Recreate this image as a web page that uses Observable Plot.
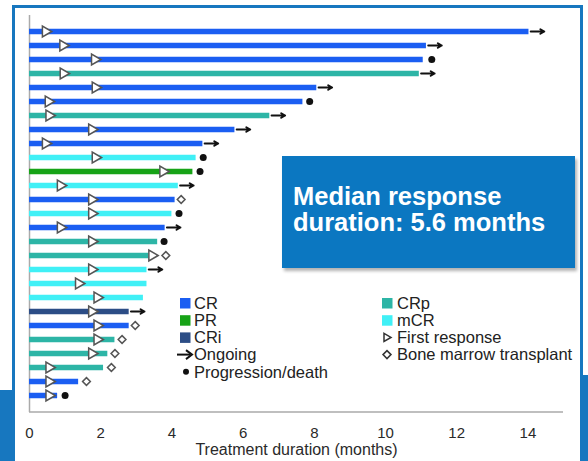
<!DOCTYPE html>
<html><head><meta charset="utf-8">
<script src="https://cdn.jsdelivr.net/npm/d3@7"></script>
<script src="https://cdn.jsdelivr.net/npm/@observablehq/plot@0.6"></script>
<style>
html,body{margin:0;padding:0;background:#fff;}
#wrap{position:relative;width:588px;height:461px;overflow:hidden;font-family:"Liberation Sans",Arial,sans-serif;}
#wrap > svg{position:absolute;left:0;top:0;}
#box{position:absolute;left:282px;top:156px;width:293px;height:112px;background:#0b77c1;box-shadow:2px 3px 3px rgba(0,0,0,0.3);color:#fff;font-weight:bold;font-size:25.5px;line-height:26px;box-sizing:border-box;padding:27px 0 0 11px;white-space:nowrap;}
</style></head><body><div id="wrap"></div>
<script>
// ---- data (one row per patient, top to bottom) ----
const response = ["CR","CR","CR","CRp","CR","CR","CRp","CR","CR","mCR","PR","mCR","CR","mCR","CR","CRp","CRp","mCR","mCR","mCR","CRi","CR","CRp","CRp","CRp","CR","CR"];
const duration = [14.03,11.15,11.06,10.95,8.07,7.68,6.75,5.77,4.87,4.68,4.59,4.18,4.09,4.0,3.81,3.6,3.35,3.3,3.3,3.2,2.8,2.8,2.4,2.2,2.08,1.38,0.79];
const firstResponse = [0.45,0.94,1.83,0.95,1.85,0.53,0.55,1.75,0.45,1.85,3.75,0.87,1.75,1.75,0.87,1.75,3.44,1.75,1.38,1.9,1.75,1.9,1.9,1.75,0.55,0.55,0.55];
const eventType = ["ongoing","ongoing","death","ongoing","ongoing","death","ongoing","ongoing","ongoing","death","death","ongoing","bmt","death","ongoing","death","bmt","ongoing",null,null,"ongoing","bmt","bmt","bmt","bmt","bmt","death"];
const eventTime = [14.03,11.15,11.3,10.95,8.07,7.87,6.75,5.77,4.87,4.88,4.79,4.18,4.26,4.2,3.81,3.78,3.83,3.3,null,null,2.8,2.97,2.6,2.4,2.3,1.6,1.0];
const xTicks = [0,2,4,6,8,10,12,14];
const categories = ["CR","CRp","PR","mCR","CRi"];
const categoryColors = ["#1b5ef2","#2db5a6","#17a317","#40f0f6","#2c4d86"];
const legendCol1 = ["CR","PR","CRi","Ongoing","Progression/death"];
const legendCol2 = ["CRp","mCR","First response","Bone marrow transplant"];
const medianText = ["Median response","duration: 5.6 months"];
const xLabel = "Treatment duration (months)";

const data = response.map((r, i) => ({id: i, response: r, duration: duration[i], first: firstResponse[i], event: eventType[i], at: eventTime[i]}));
const colorOf = new Map(categories.map((c, i) => [c, categoryColors[i]]));

const W = 588, H = 461, mL = 29, mR = 25, mT = 15, mB = 49;
const chart = Plot.plot({
  width: W, height: H, marginLeft: mL, marginRight: mR, marginTop: mT, marginBottom: mB,
  style: {fontFamily: "'Liberation Sans', Arial, sans-serif", fontSize: "15px", color: "#2a2a2a", background: "transparent", overflow: "visible"},
  x: {domain: [0, 15], ticks: xTicks, tickSize: 0, tickPadding: 15, label: null},
  y: {type: "point", domain: data.map(d => d.id), axis: null, padding: 0, insetTop: 13, insetBottom: 14},
  marks: [
    Plot.ruleX([0], {stroke: "#aaa", strokeWidth: 1.5}),
    Plot.ruleY(data, {y: "id", x1: 0, x2: "duration", stroke: d => colorOf.get(d.response), strokeWidth: 5.5}),
    Plot.arrow(data.filter(d => d.event === "ongoing"), {x1: d => d.at + 0.05, x2: d => d.at + 0.43, y1: "id", y2: "id", stroke: "#111", strokeWidth: 2, headLength: 7}),
    Plot.dot(data.filter(d => d.event === "death"), {x: "at", y: "id", r: 3.5, fill: "#111"}),
    Plot.dot(data.filter(d => d.event === "bmt"), {x: "at", y: "id", symbol: "diamond2", r: 3.5, fill: "white", stroke: "#555", strokeWidth: 1.5}),
    Plot.dot(data, {x: "first", y: "id", symbol: "triangle", rotate: 90, r: 4, fill: "white", stroke: "#555", strokeWidth: 1.5}),
    Plot.text([xLabel], {text: d => d, frameAnchor: "bottom", dy: 42, fontSize: 16, fill: "#2a2a2a"})
  ]
});
const wrap = document.getElementById("wrap");
wrap.appendChild(chart);

// x axis baseline
const xs = chart.scale("x");
d3.select(chart).append("line")
  .attr("x1", xs.apply(0)).attr("x2", xs.apply(15))
  .attr("y1", H - mB).attr("y2", H - mB)
  .attr("stroke", "#aaa").attr("stroke-width", 1.5);

// overlay: slide frame + legend
const ov = d3.select(wrap).append("svg").attr("width", W).attr("height", H)
  .style("font-family", "'Liberation Sans', Arial, sans-serif");
const blue = "#1777bf";
ov.append("rect").attr("x", 12).attr("y", 5).attr("width", 571).attr("height", 3).attr("fill", blue);
ov.append("rect").attr("x", 12).attr("y", 5).attr("width", 3).attr("height", 390).attr("fill", blue);
ov.append("rect").attr("x", 0).attr("y", 390).attr("width", 15).attr("height", 71).attr("fill", blue);
ov.append("rect").attr("x", 580).attr("y", 5).attr("width", 3).attr("height", 456).attr("fill", blue);
ov.append("rect").attr("x", 583).attr("y", 375).attr("width", 5).attr("height", 86).attr("fill", blue);

const rowY = i => 303 + i * 17.2;
const lg = ov.append("g").attr("font-size", 16.5).attr("fill", "#222");
function symbol(g, kind, cx, cy) {
  if (colorOf.has(kind)) {
    g.append("rect").attr("x", cx - 5).attr("y", cy - 5).attr("width", 10.5).attr("height", 10.5).attr("fill", colorOf.get(kind));
  } else if (kind === "Ongoing") {
    g.append("line").attr("x1", cx - 8).attr("x2", cx + 5).attr("y1", cy).attr("y2", cy).attr("stroke", "#111").attr("stroke-width", 2);
    g.append("path").attr("d", `M${cx + 1},${cy - 4.5}L${cx + 7},${cy}L${cx + 1},${cy + 4.5}`).attr("fill", "none").attr("stroke", "#111").attr("stroke-width", 2);
  } else if (kind === "Progression/death") {
    g.append("circle").attr("cx", cx + 1).attr("cy", cy).attr("r", 3).attr("fill", "#111");
  } else if (kind === "First response") {
    g.append("path").attr("d", `M${cx - 3},${cy - 4}L${cx + 4},${cy}L${cx - 3},${cy + 4}Z`).attr("fill", "white").attr("stroke", "#333").attr("stroke-width", 1.5);
  } else {
    g.append("path").attr("d", `M${cx},${cy - 4}L${cx + 4},${cy}L${cx},${cy + 4}L${cx - 4},${cy}Z`).attr("fill", "white").attr("stroke", "#333").attr("stroke-width", 1.5);
  }
}
legendCol1.forEach((t, i) => {
  symbol(lg, t, 185, rowY(i));
  lg.append("text").attr("x", 194).attr("y", rowY(i)).attr("dy", "0.35em").text(t);
});
legendCol2.forEach((t, i) => {
  symbol(lg, t, 387, rowY(i));
  lg.append("text").attr("x", 397).attr("y", rowY(i)).attr("dy", "0.35em").text(t);
});

// median annotation box
const box = document.createElement("div");
box.id = "box";
box.innerHTML = medianText.join("<br>");
wrap.appendChild(box);
</script>
</body></html>
